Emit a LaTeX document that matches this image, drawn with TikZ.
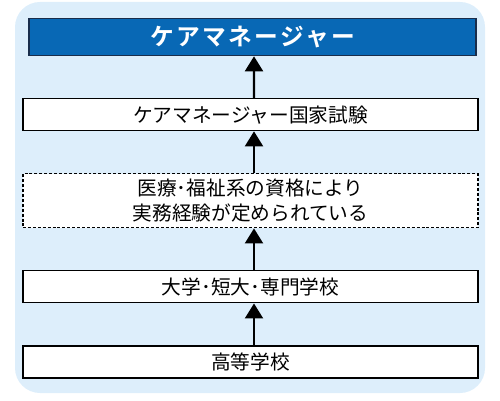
\documentclass[tikz,border=0pt]{standalone}
\usepackage{fontspec}
\newfontfamily\jp{Noto Sans CJK JP}
\newfontfamily\jpbold[LetterSpace=10]{Noto Sans CJK JP Bold}
\usetikzlibrary{positioning,arrows.meta}
\definecolor{bgblue}{RGB}{221,238,251}
\definecolor{cmblue}{RGB}{8,104,181}
\definecolor{cmedge}{RGB}{25,45,75}
\tikzset{
  stagebox/.style={draw,line width=0.6pt,fill=white,minimum width=9.1cm,minimum height=0.64cm,inner sep=0pt},
  uparrow/.style={->,line width=1.2pt}
}

\begin{document}
\begin{tikzpicture}[>={Triangle[width=0.36cm,length=0.3cm]},every node/.style={font=\jp\fontsize{11.2}{14.2}\selectfont}]
\useasboundingbox (0,0) rectangle (10,8);
\fill[bgblue,rounded corners=0.5cm] (0.3,0.14) rectangle (9.7,7.96);

\node[stagebox] (hs) at (5.01,0.76) {高等学校};
\node[stagebox,above=0.84cm of hs] (school) {大学･短大･専門学校};
\node[stagebox,dash pattern=on 1.7pt off 1.1pt,minimum height=1.08cm,align=center,above=0.84cm of school] (exp) {医療･福祉系の資格により\\実務経験が定められている};
\node[stagebox,above=0.84cm of exp] (exam) {ケアマネージャー国家試験};
\node[draw=cmedge,line width=0.6pt,fill=cmblue,text=white,minimum width=8.94cm,minimum height=0.74cm,inner sep=0pt,above=0.84cm of exam,xshift=0.04cm,font=\jpbold\fontsize{13.5}{15}\selectfont] (cm) {ケアマネージャー};

\draw[uparrow] ([xshift=0.07cm]hs.north) -- ([xshift=0.07cm]school.south);
\draw[uparrow] ([xshift=0.07cm]school.north) -- ([xshift=0.07cm]exp.south);
\draw[uparrow] ([xshift=0.07cm]exp.north) -- ([xshift=0.07cm]exam.south);
\draw[uparrow] ([xshift=0.07cm]exam.north) -- ([xshift=0.03cm]cm.south);
\end{tikzpicture}
\end{document}
